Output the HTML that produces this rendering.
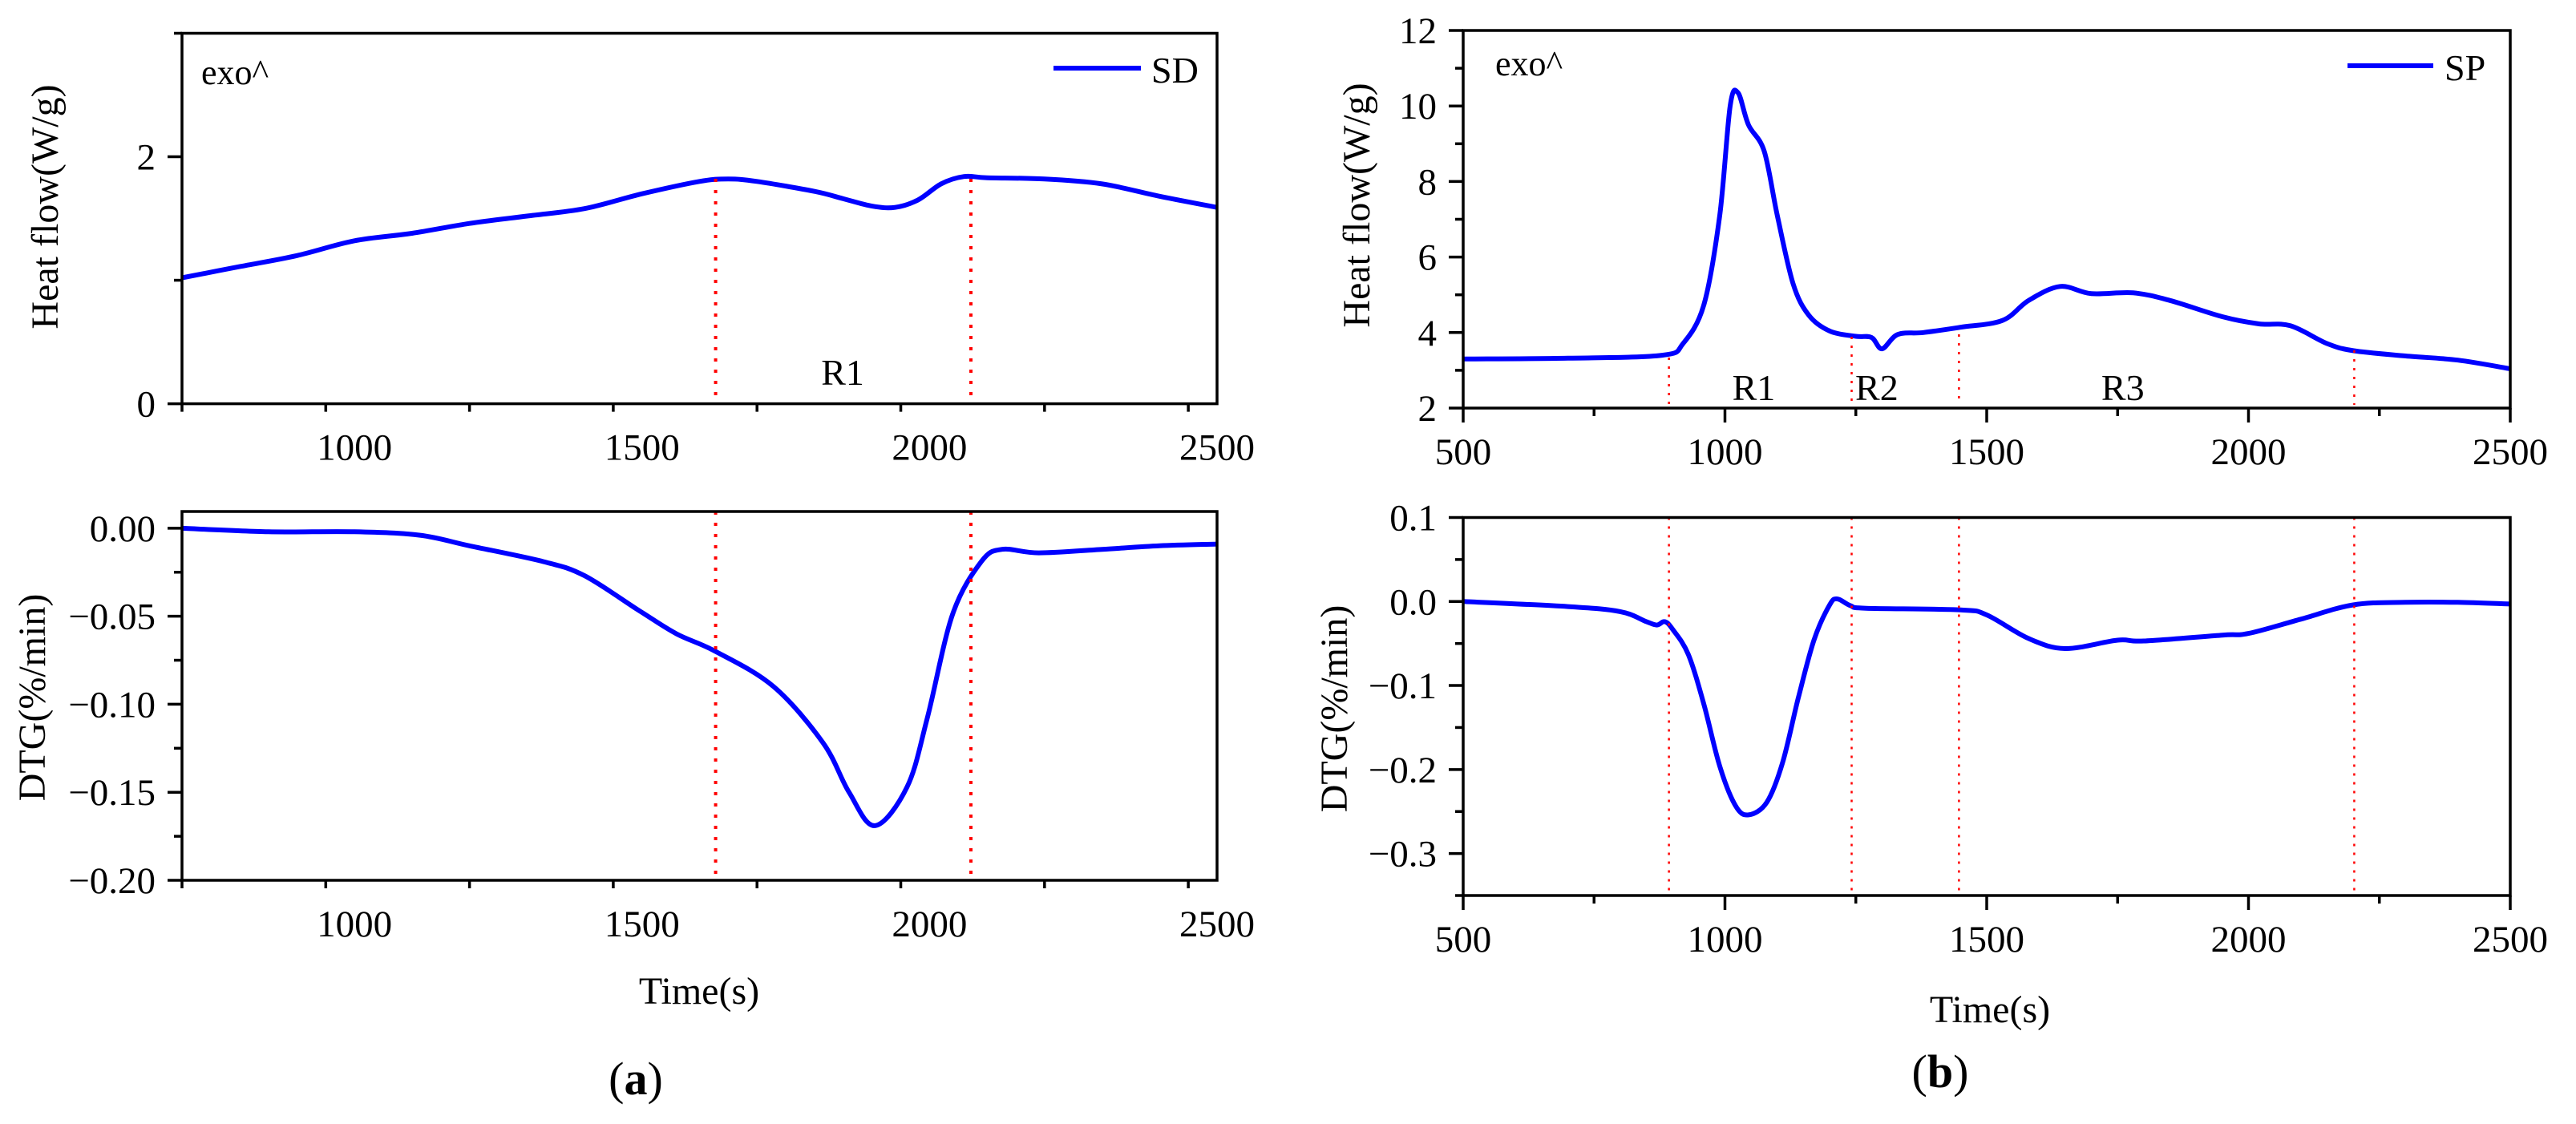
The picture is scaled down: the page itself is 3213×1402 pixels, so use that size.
<!DOCTYPE html>
<html><head><meta charset="utf-8">
<style>
html,body{margin:0;padding:0;background:#fff;}
svg{display:block;font-family:"Liberation Serif","Times New Roman",serif;}
</style></head>
<body>
<svg id="chart" width="3213" height="1402" viewBox="0 0 3213 1402" xmlns="http://www.w3.org/2000/svg"></svg>
<script>
// ---- data ----
const sdHeatTime = [700,800,900,1000,1100,1200,1300,1400,1500,1600,1650,1700,1800,1850,1900,1940,1980,2020,2060,2100,2200,2300,2400,2500];
const sdHeatVal  = [1.02,1.11,1.20,1.32,1.38,1.46,1.52,1.58,1.70,1.80,1.82,1.80,1.72,1.66,1.60,1.59,1.65,1.78,1.84,1.83,1.82,1.78,1.68,1.59];
const sdDtgTime = [700,850,1000,1114,1200,1329,1400,1496,1560,1628,1729,1815,1860,1905,1961,1996,2040,2090,2126,2190,2300,2400,2500];
const sdDtgVal  = [0,-0.002,-0.002,-0.004,-0.010,-0.019,-0.027,-0.047,-0.060,-0.070,-0.090,-0.122,-0.150,-0.169,-0.147,-0.108,-0.049,-0.019,-0.012,-0.014,-0.012,-0.010,-0.009];
const spHeatTime = [500,700,880,920,960,990,1010,1025,1045,1075,1100,1130,1160,1200,1250,1280,1300,1330,1379,1450,1530,1580,1640,1700,1780,1850,1950,2020,2080,2150,2200,2300,2400,2500];
const spHeatVal  = [3.30,3.32,3.40,3.71,4.75,7.1,10.0,10.35,9.5,8.8,7.1,5.3,4.46,4.04,3.9,3.87,3.57,3.95,4.0,4.14,4.32,4.85,5.22,5.03,5.05,4.85,4.42,4.23,4.18,3.71,3.52,3.38,3.27,3.04];
const spDtgTime = [500,700,800,850,870,885,900,930,960,990,1020,1045,1080,1110,1140,1170,1200,1215,1240,1270,1450,1500,1580,1650,1750,1800,1950,2000,2100,2200,2300,2400,2500];
const spDtgVal  = [0,-0.006,-0.012,-0.024,-0.028,-0.024,-0.033,-0.063,-0.123,-0.196,-0.243,-0.254,-0.239,-0.192,-0.115,-0.046,-0.004,0.003,-0.005,-0.008,-0.010,-0.016,-0.044,-0.056,-0.046,-0.047,-0.040,-0.038,-0.021,-0.004,-0.001,-0.001,-0.003];
const sdBoundaries = [1628,2072];
const spBoundaries = [893,1242,1447,2202];
const sdRegionLabels = ["R1"];
const sdRegionTimes = [1849];
const spRegionLabels = ["R1","R2","R3"];
const spRegionTimes = [1055,1290,1760];
const aXTicks = [1000,1500,2000,2500];
const bXTicks = [500,1000,1500,2000,2500];
const aTopYTicks = [0,2];
const aBotYTicks = [0.00,-0.05,-0.10,-0.15,-0.20];
const bTopYTicks = [2,4,6,8,10,12];
const bBotYTicks = [0.1,0.0,-0.1,-0.2,-0.3];

const NS="http://www.w3.org/2000/svg";
const svg=document.getElementById('chart');
function mk(tag,attrs,parent){const e=document.createElementNS(NS,tag);for(const k in attrs)e.setAttribute(k,attrs[k]);(parent||svg).appendChild(e);return e;}
function smooth(pts){
  let d='M'+pts[0][0].toFixed(1)+','+pts[0][1].toFixed(1);
  for(let i=0;i<pts.length-1;i++){
    const p0=pts[Math.max(0,i-1)],p1=pts[i],p2=pts[i+1],p3=pts[Math.min(pts.length-1,i+2)];
    const c1=[p1[0]+(p2[0]-p0[0])/6,p1[1]+(p2[1]-p0[1])/6];
    const c2=[p2[0]-(p3[0]-p1[0])/6,p2[1]-(p3[1]-p1[1])/6];
    d+=' C'+c1[0].toFixed(1)+','+c1[1].toFixed(1)+' '+c2[0].toFixed(1)+','+c2[1].toFixed(1)+' '+p2[0].toFixed(1)+','+p2[1].toFixed(1);
  }
  return d;
}
function panel(cfg){
  const g=mk('g',{});
  
  
  const X=t=>cfg.x0+(t-cfg.t0)/(cfg.t1-cfg.t0)*(cfg.x1-cfg.x0);
  const Y=v=>cfg.y1-(v-cfg.v0)/(cfg.v1-cfg.v0)*(cfg.y1-cfg.y0);
  const pts=cfg.times.map((t,i)=>[X(t),Y(cfg.vals[i])]);
  const c=mk('path',{d:smooth(pts),fill:'none',stroke:'#0000ff','stroke-width':6,'stroke-linejoin':'round'},g);
  
  
  cfg.bounds.forEach((b,i)=>{
    const top=cfg.boundTop?cfg.boundTop[i]:cfg.y0;
    const l=mk('line',{x1:X(b),x2:X(b),y1:top,y2:cfg.y1-4,stroke:'#ff0000','stroke-width':cfg.dotW,'stroke-dasharray':cfg.dash},g);
    
    
  });
  const f=mk('rect',{x:cfg.x0,y:cfg.y0,width:cfg.x1-cfg.x0,height:cfg.y1-cfg.y0,fill:'none',stroke:'#000','stroke-width':3.5},g);
  
  
  for(let t=cfg.t0;t<=cfg.t1+0.01;t+=cfg.xMinor){
    const major=cfg.xTicks.some(v=>Math.abs(v-t)<0.01);
    const tk=mk('line',{x1:X(t),x2:X(t),y1:cfg.y1,y2:cfg.y1+(major?18:10),stroke:'#000','stroke-width':3.5},g);
    
    
  }
  cfg.xTicks.forEach(t=>{
    const tx=mk('text',{x:X(t),y:cfg.y1+70,'font-size':47,'text-anchor':'middle'},g);
    tx.textContent=t;
    
    
  });
  const n=Math.round((cfg.v1-cfg.v0)/cfg.yMinor);
  for(let k=0;k<=n;k++){
    const v=cfg.v0+k*cfg.yMinor;
    const major=cfg.yTicks.some(u=>Math.abs(u-v)<1e-6);
    const tk=mk('line',{x1:cfg.x0-(major?18:10),x2:cfg.x0,y1:Y(v),y2:Y(v),stroke:'#000','stroke-width':3.5},g);
    
    
  }
  cfg.yTicks.forEach(v=>{
    const tx=mk('text',{x:cfg.x0-33,y:Y(v)+16,'font-size':47,'text-anchor':'end'},g);
    tx.textContent=(v<0?'\u2212':'')+Math.abs(v).toFixed(cfg.dec);
    
    
  });
  const yt=mk('text',{x:0,y:0,'font-size':48,'text-anchor':'middle',transform:'translate('+cfg.ytx+','+cfg.yty+') rotate(-90)'},g);
  yt.textContent=cfg.ytitle;
  
  
  (cfg.regLabels||[]).forEach((r,i)=>{
    const tx=mk('text',{x:X(cfg.regTimes[i]),y:cfg.regY,'font-size':46,'text-anchor':'middle'},g);
    tx.textContent=r;
    
    
  });
  return {X,Y,g};
}

panel({name:'sd-heat-flow-plot',x0:227,x1:1518,y0:41.5,y1:503.6,t0:700,t1:2500,v0:0,v1:3,
  times:sdHeatTime,vals:sdHeatVal,bounds:sdBoundaries,boundTop:[223,223],dotW:4,dash:'4 10',
  xTicks:aXTicks,xMinor:250,yTicks:aTopYTicks,yMinor:1,dec:0,
  ytitle:'Heat flow(W/g)',ytx:72,yty:258,regLabels:sdRegionLabels,regTimes:sdRegionTimes,regY:480});
panel({name:'sd-dtg-plot',x0:227,x1:1518,y0:638,y1:1098,t0:700,t1:2500,v0:-0.2,v1:0.0095,
  times:sdDtgTime,vals:sdDtgVal,bounds:sdBoundaries,dotW:4,dash:'4 10',
  xTicks:aXTicks,xMinor:250,yTicks:aBotYTicks,yMinor:0.025,dec:2,
  ytitle:'DTG(%/min)',ytx:56,yty:870});
panel({name:'sp-heat-flow-plot',x0:1825,x1:3131,y0:38,y1:509,t0:500,t1:2500,v0:2,v1:12,
  times:spHeatTime,vals:spHeatVal,bounds:spBoundaries,boundTop:[446,420,417,437],dotW:2.5,dash:'3 8',
  xTicks:bXTicks,xMinor:250,yTicks:bTopYTicks,yMinor:1,dec:0,
  ytitle:'Heat flow(W/g)',ytx:1708,yty:256,regLabels:spRegionLabels,regTimes:spRegionTimes,regY:499});
panel({name:'sp-dtg-plot',x0:1825,x1:3131,y0:645.5,y1:1117,t0:500,t1:2500,v0:-0.35,v1:0.1,
  times:spDtgTime,vals:spDtgVal,bounds:spBoundaries,dotW:2.5,dash:'3 8',
  xTicks:bXTicks,xMinor:250,yTicks:bBotYTicks,yMinor:0.05,dec:1,
  ytitle:'DTG(%/min)',ytx:1680,yty:884});

function text(x,y,s,size,name,extra){
  const t=mk('text',Object.assign({x:x,y:y,'font-size':size},extra||{}));
  t.textContent=s;
  
  
  return t;
}
text(251,105,'exo^',44,'exo-annotation');
text(1865,94,'exo^',44,'exo-annotation');
let l1=mk('line',{x1:1314,x2:1423,y1:85,y2:85,stroke:'#0000ff','stroke-width':6});


text(1436,103,'SD',46,'legend-label-sd');
let l2=mk('line',{x1:2928,x2:3035,y1:82,y2:82,stroke:'#0000ff','stroke-width':6});


text(3049,100,'SP',46,'legend-label-sp');
text(872,1252,'Time(s)',48,'x-axis-title',{'text-anchor':'middle'});
text(2482,1275,'Time(s)',48,'x-axis-title',{'text-anchor':'middle'});
const pa=text(793,1365,'',58,'panel-label-a',{'text-anchor':'middle'});
const s1=mk('tspan',{},pa);s1.textContent='(';
const s2=mk('tspan',{'font-weight':'bold'},pa);s2.textContent='a';
const s3=mk('tspan',{},pa);s3.textContent=')';
const pb=text(2420,1356,'',58,'panel-label-b',{'text-anchor':'middle'});
const t1=mk('tspan',{},pb);t1.textContent='(';
const t2=mk('tspan',{'font-weight':'bold'},pb);t2.textContent='b';
const t3=mk('tspan',{},pb);t3.textContent=')';
</script>
</body></html>
